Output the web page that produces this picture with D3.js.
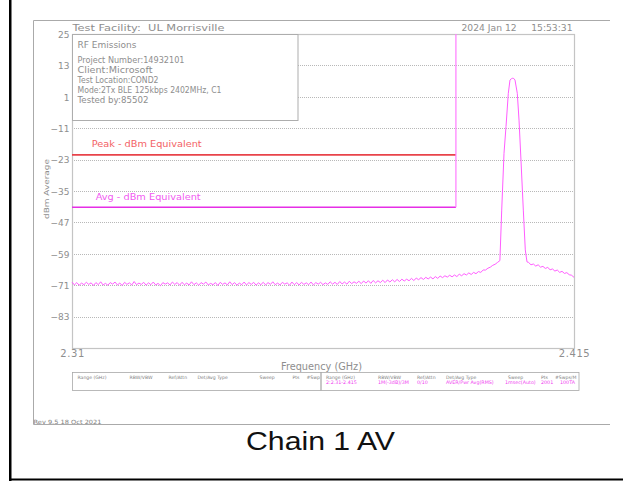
<!DOCTYPE html>
<html>
<head>
<meta charset="utf-8">
<script src="https://cdn.jsdelivr.net/npm/d3@7"></script>
<style>
  html, body { margin: 0; padding: 0; background: #fff; }
  svg { display: block; }
  text { white-space: pre; }
</style>
</head>
<body>
<svg id="chart" width="623" height="481"></svg>
<script>
// ---------------- data ----------------
const yTicks = [25, 13, 1, -11, -23, -35, -47, -59, -71, -83];
const yDomain = [-95, 25];
const xTicks = [2.31, 2.415];
const xDomain = [2.31, 2.415];

const facilityText = "Test Facility:  UL Morrisville";
const dateText = "2024 Jan 12     15:53:31";
const headerTitle = "RF Emissions";
const headerLines = [
  "Project Number:14932101",
  "Client:Microsoft",
  "Test Location:COND2",
  "Mode:2Tx BLE 125kbps 2402MHz, C1",
  "Tested by:85502"
];

const limitNames = ["Peak - dBm Equivalent", "Avg - dBm Equivalent"];
const limitValues = [-21.2, -41.2];
const limitStopGHz = 2.3903;

// Trace: swept noise left of carrier (GHz start, step), carrier points, noise right of carrier
const sweepStep = 0.0005;
const noiseLeftStart = 2.31;
const noiseLeft = [
  -69.8,-70.9,-70.0,-71.0,-70.2,-70.8,-69.9,-70.7,-70.1,-71.1,
  -70.0,-70.8,-69.7,-70.9,-70.3,-71.0,-70.0,-70.6,-69.8,-70.9,
  -70.2,-71.1,-69.9,-70.7,-70.1,-70.9,-69.6,-70.8,-70.2,-70.7,
  -69.9,-71.0,-70.1,-70.8,-69.8,-70.9,-70.3,-71.2,-70.0,-70.6,
  -70.1,-70.9,-69.8,-70.7,-70.0,-71.0,-69.9,-70.8,-70.2,-70.9,
  -69.7,-70.8,-70.1,-71.0,-70.0,-70.6,-69.8,-70.9,-70.3,-70.8,
  -70.0,-71.1,-69.9,-70.7,-70.1,-70.9,-69.7,-70.8,-70.0,-71.0,
  -70.2,-70.8,-69.8,-70.9,-70.0,-70.7,-69.9,-71.0,-70.1,-70.8,
  -69.9,-70.9,-70.0,-70.7,-69.7,-70.8,-70.2,-70.9,-69.9,-70.6,
  -70.1,-71.0,-69.8,-70.8,-70.0,-70.9,-69.9,-70.7,-70.1,-70.8,
  -69.8,-70.9,-70.0,-70.6,-69.9,-70.8,-70.1,-70.7,-69.7,-70.6,
  -69.9,-70.7,-69.6,-70.5,-69.8,-70.6,-69.5,-70.4,-69.7,-70.3,
  -69.5,-70.4,-69.4,-70.2,-69.3,-70.3,-69.2,-70.1,-69.3,-70.0,
  -69.1,-70.0,-69.0,-69.8,-68.9,-69.7,-68.8,-69.6,-68.7,-69.4,
  -68.7,-69.3,-68.4,-69.2,-68.3,-68.9,-68.1,-68.8,-68.0,-68.6,
  -67.9,-68.6,-67.7,-68.4,-67.5,-68.1,-67.4,-67.9,-67.2,-67.8,
  -67.1,-67.7,-66.8,-67.4,-66.6,-67.1,-66.3,-66.9,-66.1,-66.6,
  -65.8,-66.1,-65.2,-65.2,-64.5,-64.1,-63.4,-63.0,-62.3,-61.6
];
const carrierGHz = [2.39988, 2.40036, 2.40078, 2.40126, 2.40161, 2.40190, 2.40218, 2.40240, 2.40266, 2.40314, 2.40350, 2.40391, 2.40440, 2.40481, 2.40505, 2.40517];
const carrierDbm = [-42.3, -20.6, -10.4, 2.3, 7.4, 7.9, 8.1, 8.0, 7.4, 2.3, -7.9, -23.2, -42.3, -57.5, -60.6, -62.1];
const noiseRightStart = 2.4055;
const noiseRight = [
  -62.3,-63.2,-62.9,-63.7,-63.2,-64.1,-63.8,-64.6,-64.2,-65.1,
  -64.8,-65.6,-65.2,-66.1,-65.7,-66.5,-66.2,-67.0,-67.2,-68.0
];

const tableLabels = ["Range (GHz)", "RBW/VBW", "Ref/Attn", "Det/Avg Type", "Sweep", "Pts", "#Swps/M"];
const tableValues = ["2:2.31-2.415", "1M(-3dB)/3M", "0/10", "AVER/Pwr Avg(RMS)", "1msec(Auto)", "2001", "100TA"];
const revText = "Rev 9.5 18 Oct 2021";
const captionText = "Chain 1 AV";
const xTitle = "Frequency (GHz)";
const yTitle = "dBm Average";

// ---------------- build trace ----------------
const trace = [];
noiseLeft.forEach((v, i) => trace.push([noiseLeftStart + i * sweepStep, v]));
carrierGHz.forEach((f, i) => trace.push([f, carrierDbm[i]]));
noiseRight.forEach((v, i) => trace.push([noiseRightStart + i * sweepStep, v]));

// ---------------- layout ----------------
const svg = d3.select("#chart");
const plot = { left: 72, right: 574, top: 34, bottom: 348 };
const x = d3.scaleLinear().domain(xDomain).range([plot.left, plot.right]);
const y = d3.scaleLinear().domain(yDomain).range([plot.bottom, plot.top]);
const hershey = "'DejaVu Sans', sans-serif";
const gray = "#8e8e8e";

function fitText(sel, w) {
  return sel.attr("textLength", w).attr("lengthAdjust", "spacingAndGlyphs");
}

// black page edges
svg.append("rect").attr("x", 9).attr("y", 0).attr("width", 2.5).attr("height", 481).attr("fill", "#000");
svg.append("line").attr("x1", 9).attr("x2", 623).attr("y1", 479.5).attr("y2", 479.5)
  .attr("stroke", "#000").attr("stroke-width", 2);

// outer frame
svg.append("path").attr("d", "M610,20.5H33.5V424.5H610")
  .attr("fill", "none").attr("stroke", "#aaa").attr("stroke-width", 1);

// gridlines
svg.append("g").selectAll("line").data(yTicks.filter(t => t !== yDomain[1])).join("line")
  .attr("x1", plot.left).attr("x2", plot.right)
  .attr("y1", d => Math.round(y(d)) + 0.5).attr("y2", d => Math.round(y(d)) + 0.5)
  .attr("stroke", "#b8b8b8").attr("stroke-width", 1).attr("stroke-dasharray", "1,1");

// plot border
svg.append("rect").attr("x", plot.left + 0.5).attr("y", plot.top + 0.5)
  .attr("width", plot.right - plot.left).attr("height", plot.bottom - plot.top)
  .attr("fill", "none").attr("stroke", "#c4c4c4").attr("stroke-width", 1.2);

// header box
svg.append("rect").attr("x", plot.left + 0.5).attr("y", plot.top + 0.5)
  .attr("width", 225.5).attr("height", 86)
  .attr("fill", "#fff").attr("stroke", "#adadad").attr("stroke-width", 1);
fitText(svg.append("text").attr("x", 77.5).attr("y", 47.5).attr("font-family", hershey)
  .attr("font-size", 9.5).attr("fill", gray).text(headerTitle), 59);
const headerWidths = [107, 75, 81, 144, 71];
svg.append("g").selectAll("text").data(headerLines).join("text")
  .attr("x", 77.5).attr("y", (d, i) => 63.2 + i * 9.85)
  .attr("font-family", hershey).attr("font-size", 8.3).attr("fill", gray)
  .text(d => d)
  .each(function (d, i) { fitText(d3.select(this), headerWidths[i]); });

// facility / date
fitText(svg.append("text").attr("x", 72.5).attr("y", 30.5).attr("font-family", hershey)
  .attr("font-size", 8.5).attr("fill", gray).text(facilityText), 152);
fitText(svg.append("text").attr("x", 461.5).attr("y", 30.5).attr("font-family", hershey)
  .attr("font-size", 8.5).attr("fill", gray).text(dateText), 111);

// limit lines
const limitColors = ["#e8434a", "#e62ee6"];
svg.append("g").selectAll("line").data(limitValues).join("line")
  .attr("x1", x(xDomain[0])).attr("x2", x(limitStopGHz))
  .attr("y1", d => y(d)).attr("y2", d => y(d))
  .attr("stroke", (d, i) => limitColors[i]).attr("stroke-width", 1.6);
svg.append("line")
  .attr("x1", x(limitStopGHz)).attr("x2", x(limitStopGHz))
  .attr("y1", y(yDomain[1])).attr("y2", y(limitValues[1]))
  .attr("stroke", "#ff7cff").attr("stroke-width", 1.2);
const limitLabelColors = ["#f36266", "#f25af2"];
const limitLabelDx = [91.7, 95.7];
const limitLabelW = [110, 105];
svg.append("g").selectAll("text").data(limitNames).join("text")
  .attr("x", (d, i) => limitLabelDx[i])
  .attr("y", (d, i) => y(limitValues[i]) - 7.5)
  .attr("font-family", hershey).attr("font-size", 8.8)
  .attr("fill", (d, i) => limitLabelColors[i]).text(d => d)
  .each(function (d, i) { fitText(d3.select(this), limitLabelW[i]); });

// trace
const line = d3.line().x(d => x(d[0])).y(d => y(d[1]));
svg.append("path").datum(trace).attr("d", line)
  .attr("fill", "none").attr("stroke", "#ff5cff").attr("stroke-width", 1)
  .attr("stroke-linejoin", "round");

// y axis
const yAxis = svg.append("g").attr("transform", `translate(${plot.left},0)`)
  .call(d3.axisLeft(y).tickValues(yTicks).tickSize(0).tickPadding(2.5).tickFormat(d3.format("d")));
yAxis.select(".domain").remove();
yAxis.selectAll("text").attr("font-family", hershey).attr("font-size", 9)
  .attr("fill", gray).attr("dy", "0.36em");

// x axis
const xAxis = svg.append("g").attr("transform", `translate(0,${plot.bottom})`)
  .call(d3.axisBottom(x).tickValues(xTicks).tickSize(0).tickPadding(2).tickFormat(d => String(d)));
xAxis.select(".domain").remove();
xAxis.selectAll("text").attr("font-family", hershey).attr("font-size", 10)
  .attr("fill", gray).attr("letter-spacing", 0.6);

// axis titles
fitText(svg.append("text").attr("x", 321.5).attr("y", 370).attr("text-anchor", "middle")
  .attr("font-family", hershey).attr("font-size", 10).attr("fill", gray).text(xTitle), 81);
fitText(svg.append("text").attr("transform", `translate(48.5,${(plot.top + plot.bottom) / 2 - 2}) rotate(-90)`)
  .attr("text-anchor", "middle").attr("font-family", hershey).attr("font-size", 7)
  .attr("fill", gray).text(yTitle), 60);

// bottom settings table
const boxes = [{ x0: 72.5, x1: 321 }, { x0: 321, x1: 579 }];
const colOffsets = [5, 57, 96, 125, 187, 220, 234];
const defs = svg.append("defs");
boxes.forEach((b, bi) => {
  defs.append("clipPath").attr("id", "tclip" + bi).append("rect")
    .attr("x", b.x0).attr("y", 371).attr("width", b.x1 - b.x0 - 1).attr("height", 20);
  svg.append("rect").attr("x", b.x0).attr("y", 372.5).attr("width", b.x1 - b.x0).attr("height", 18)
    .attr("fill", "none").attr("stroke", "#a8a8a8").attr("stroke-width", 0.8);
  const g = svg.append("g").attr("clip-path", `url(#tclip${bi})`);
  g.selectAll("text.lab").data(tableLabels).join("text").attr("class", "lab")
    .attr("x", (d, i) => b.x0 + colOffsets[i]).attr("y", 378.5)
    .attr("font-family", hershey).attr("font-size", 4.6).attr("fill", "#808080").text(d => d);
  if (bi === 1) {
    g.selectAll("text.val").data(tableValues).join("text").attr("class", "val")
      .attr("x", (d, i) => b.x0 + colOffsets[i] - (i === 4 ? 3 : 0) + (i === 6 ? 5 : 0)).attr("y", 383.8)
      .attr("font-family", hershey).attr("font-size", 4.8).attr("fill", "#f040f0").text(d => d);
  }
});

// revision text
fitText(svg.append("text").attr("x", 33.5).attr("y", 423.5).attr("font-family", hershey)
  .attr("font-size", 5.8).attr("fill", "#808080").text(revText), 68);

// caption
fitText(svg.append("text").attr("x", 246).attr("y", 450).attr("font-family", "'Liberation Sans', Arial, sans-serif")
  .attr("font-size", 25.5).attr("fill", "#111").text(captionText), 149);
</script>
</body>
</html>
